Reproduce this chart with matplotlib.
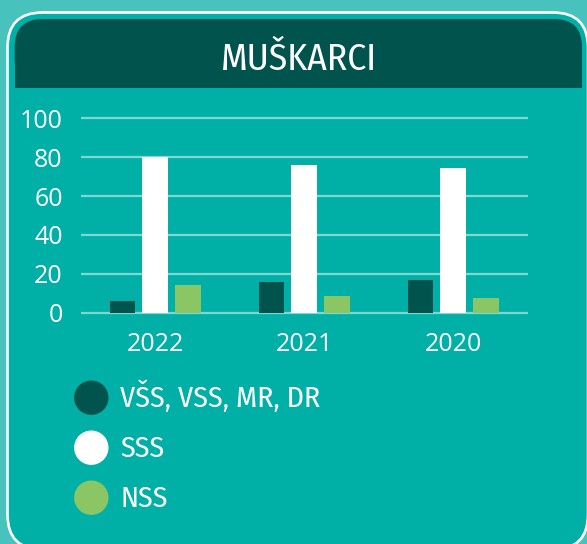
import matplotlib
matplotlib.use("Agg")
import matplotlib.pyplot as plt
from matplotlib import font_manager as fm
from matplotlib.patches import FancyBboxPatch, Rectangle, Circle
import numpy as np

# values (percent)
years = ["2022", "2021", "2020"]
vss = [6.0, 15.6, 16.8]
sss = [80.0, 76.0, 74.6]
nss = [14.2, 8.7, 7.4]
series_labels = ["VŠS, VSS, MR, DR", "SSS", "NSS"]
yticks = [0, 20, 40, 60, 80, 100]
title = "MUŠKARCI"

outer = "#48c2bd"
teal = "#00b0a6"
dark = "#00544d"
green = "#8bc664"
colors = [dark, "#ffffff", green]


def pick(cands, fallback="DejaVu Sans"):
    have = {f.name for f in fm.fontManager.ttflist}
    for c in cands:
        if c in have:
            return [c, fallback]
    return [fallback]


narrow = pick(["Fira Sans Condensed", "Open Sans Condensed", "PT Sans Narrow",
               "Roboto Condensed", "Liberation Sans Narrow"])
sans = pick(["Open Sans"])

W, H = 587, 544
fig = plt.figure(figsize=(W / 100, H / 100), dpi=100)
fig.patch.set_facecolor(outer)

# background card, drawn in pixel coordinates
bg = fig.add_axes([0, 0, 1, 1])
bg.set_xlim(0, W)
bg.set_ylim(H, 0)
bg.axis("off")
bg.add_patch(FancyBboxPatch((7.5, 12.5), 580.5, 537,
                            boxstyle="round,pad=0,rounding_size=35",
                            fc=teal, ec="white", lw=1.9))
bg.add_patch(FancyBboxPatch((14.7, 19), 567.3, 68.5,
                            boxstyle="round,pad=0,rounding_size=28",
                            fc=dark, ec="none"))
bg.add_patch(Rectangle((14.7, 50), 567.3, 37.5, fc=dark, ec="none"))
bg.text(298.6, 70, title, ha="center", va="baseline", fontsize=27,
        color="white", family=narrow, fontweight=400)

# legend
for i, (lab, col) in enumerate(zip(series_labels, colors)):
    cy = 397.7 + 50 * i
    bg.add_patch(Circle((91.3, cy), 17.2, fc=col, ec="none"))
    bg.text(120.5, cy + 9.5, lab, ha="left", va="baseline", fontsize=21.5,
            color="white", family=narrow, fontweight=400)

# bar chart
ax = fig.add_axes([80.7 / W, 1 - 318.5 / H, 447 / W, 206 / H])
ax.set_facecolor("none")
x = np.arange(len(years))
width = 0.172
step = 0.219
for k, (vals, col) in enumerate(zip([vss, sss, nss], colors)):
    ax.bar(x + (k - 1) * step, vals, width, color=col, zorder=3)

for t in yticks:
    ax.axhline(t, color="white", alpha=0.5, lw=1.6, zorder=1)

ax.set_xlim(-0.5, 2.5)
ax.set_ylim(-3, 103)
ax.set_xticks(x)
ax.set_xticklabels(years)
ax.set_yticks(yticks)
for s in ax.spines.values():
    s.set_visible(False)
ax.tick_params(axis="both", length=0, colors="white", labelsize=18)
ax.tick_params(axis="x", pad=10)
ax.tick_params(axis="y", pad=13)
for lbl in ax.get_xticklabels() + ax.get_yticklabels():
    lbl.set_fontfamily(sans)

fig.savefig("out.png", dpi=100, facecolor=fig.get_facecolor())
